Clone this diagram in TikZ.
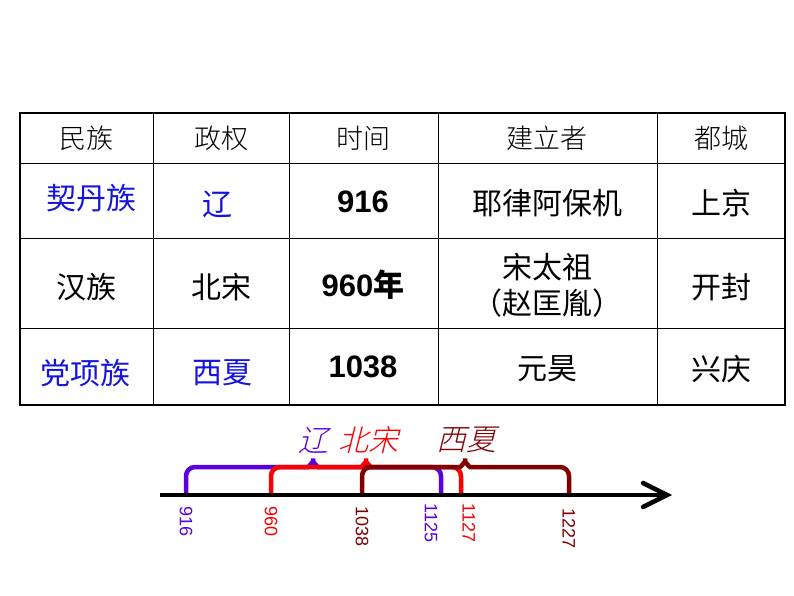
\documentclass[tikz,border=0pt]{standalone}
\usepackage{fontspec}
\setmainfont{Liberation Sans}
\newfontfamily\cjk{Noto Sans CJK SC}
\newfontfamily\cjkhead{Noto Sans CJK SC Light}
\newfontfamily\cjkslant[FakeSlant=0.25]{Noto Sans CJK SC Light}
\usetikzlibrary{calc}
\definecolor{liaopurple}{RGB}{90,0,220}
\definecolor{songred}{RGB}{250,0,0}
\definecolor{xiabrown}{RGB}{128,0,0}
\definecolor{cellblue}{RGB}{20,20,220}
\tikzset{
  cell/.style={font=\cjk\fontsize{30}{36}\selectfont, align=center},
  headcell/.style={font=\cjkhead\fontsize{27}{30}\selectfont},
  numcell/.style={font=\bfseries\fontsize{31}{34}\selectfont},
  year/.style={font=\fontsize{18}{19}\selectfont, rotate=-90, anchor=west},
  bracket/.style={line width=4.5pt, rounded corners=9pt, line cap=round},
}
\newcommand{\bracketpath}[5]{% color, left, right, top, apex x
  \draw[bracket,#1] (#2,495) -- (#2,#4) -- (#5-14,#4)
    .. controls (#5-4,#4) and (#5,#4-6) .. (#5,#4-14)
    .. controls (#5,#4-6) and (#5+4,#4) .. (#5+14,#4) -- (#3,#4) -- (#3,495);}
\begin{document}
\begin{tikzpicture}[x=1pt,y=-1pt]
	\useasboundingbox (0,0) rectangle (794,596);
	% Table
	\draw[line width=1.6pt] (20,113) rectangle (785,405);
	\foreach \y in {163,238,328} \draw[line width=0.8pt] (20,\y) -- (785,\y);
	\foreach \x in {153,289,438,657} \draw[line width=0.8pt] (\x,113) -- (\x,405);
	
	% Header
	\node[headcell] (h1) at (86,138) {民族};
	\node[headcell] (h2) at (221,138) {政权};
	\node[headcell] (h3) at (363,138) {时间};
	\node[headcell] (h4) at (547,138) {建立者};
	\node[headcell] (h5) at (721,138) {都城};
	
	% Rows
	\node[cell,cellblue] (r1a) at (91,198) {契丹族};
	\node[cell,cellblue] (r1b) at (217,204) {辽};
	\node[numcell] (r1c) at (363,202) {916};
	\node[cell] (r1d) at (547,203) {耶律阿保机};
	\node[cell] (r2a) at (86,287) {汉族};
	\node[cell] (r1e) at (721,203) {上京};
	\node[cell] (r2b) at (221,287) {北宋};
	\node[numcell] (r2c) at (363,285) {960\cjk 年};
	\node[cell] (r2d) at (547,285) {宋太祖\\（赵匡胤）};
	\node[cell] (r2e) at (721,287) {开封};
	\node[cell,cellblue] (r3a) at (85,373) {党项族};
	\node[cell,cellblue] (r3b) at (222,373) {西夏};
	\node[numcell] (r3c) at (363,367) {1038};
	\node[cell] (r3d) at (547,369) {元昊};
	\node[cell] (r3e) at (721,369) {兴庆};
	
	% Timeline brackets
	\bracketpath{liaopurple}{186}{441}{467}{313}
	\bracketpath{songred}{271}{461}{467}{366}
	\bracketpath{xiabrown}{362}{569}{467}{465}
	
	% Axis
	\coordinate (axl) at (160,495);
	\coordinate (axr) at (667,495);
	\draw[line width=4.5pt] (axl) -- (axr);
	\draw[line width=4.5pt, line cap=round] ($(axr)+(-24,-12)$) -- (axr) -- ($(axr)+(-24,12)$);
	
	% Labels
	\node[font=\cjkslant\fontsize{30}{32}\selectfont, liaopurple] (lliao) at (313,440) {辽};
	\node[font=\cjkslant\fontsize{30}{32}\selectfont, songred] (lsong) at (368,440) {北宋};
	\node[font=\cjkslant\fontsize{30}{32}\selectfont, xiabrown] (lxia) at (466,440) {西夏};
	
	% Years
	\node[year,liaopurple] (y916) at (186,503) {916};
	\node[year,songred] (y960) at (271,503) {960};
	\node[year,xiabrown] (y1038) at (362,503) {1038};
	\node[year,liaopurple] (y1125) at (431,500) {1125};
	\node[year,songred] (y1127) at (469,500) {1127};
	\node[year,xiabrown] (y1227) at (569,505) {1227};
\end{tikzpicture}
\end{document}
